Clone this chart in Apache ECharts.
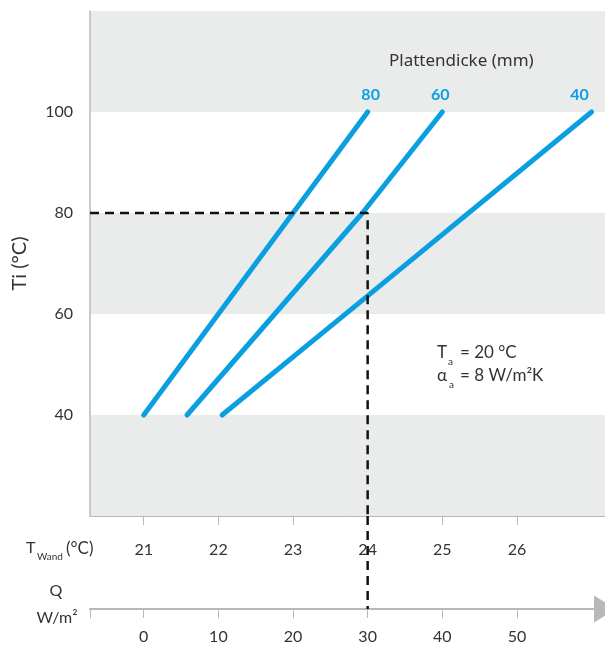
<!DOCTYPE html>
<html>
<head>
<meta charset="utf-8">
<script src="https://cdn.jsdelivr.net/npm/echarts@6/dist/echarts.min.js"></script>
<style>
html,body{margin:0;padding:0;background:#fff;}
#chart{width:605px;height:646px;}
</style>
</head>
<body>
<div id="chart"></div>
<script>
// ---- data ----
var thicknessNames = ['80', '60', '40'];
var line80 = [[21.0, 40], [22.0, 60], [23.0, 80], [24.0, 100]];
var line60 = [[21.58, 40], [23.93, 80], [25.0, 100]];
var line40 = [[22.05, 40], [24.0, 63.6], [27.0, 100]];
var twandTicks = [21, 22, 23, 24, 25, 26];
var qTicks = [0, 10, 20, 30, 40, 50];
var tiTicks = [40, 60, 80, 100];
var readTi = 80;      // dashed reading: Ti
var readTwand = 24;   // dashed reading: T_Wand
var readQ = 30;       // dashed reading: Q

// ---- layout constants ----
var XMIN = 20.28, XMAX = 27.18;
var QMIN = (XMIN - 21) * 10, QMAX = (XMAX - 21) * 10;
var BLUE = '#0a9fe0';
var TXT = '#333333';
var AXG = '#b8b8b8';
var FONT = 'Lato, "Noto Sans", sans-serif';
var WFONT = '"Noto Sans", Lato, sans-serif';

var chart = echarts.init(document.getElementById('chart'), null, {renderer: 'canvas'});

function withEndLabel(data, name, dx) {
  return data.map(function (p, i) {
    if (i === data.length - 1) {
      return {value: p, label: {show: true, formatter: name, position: 'top', distance: 9, offset: [dx, 0],
        color: BLUE, fontWeight: 'bold', fontSize: 16, fontFamily: FONT}};
    }
    return {value: p, label: {show: false}};
  });
}

var blueStyle = {color: BLUE, width: 5, cap: 'round', join: 'round'};
var dashStyle = {color: '#111', width: 2.5, type: [9, 6]};

function blueSeries(name, data, dx) {
  return {type: 'line', name: name, xAxisIndex: 0, yAxisIndex: 0,
    symbol: 'circle', symbolSize: 1, showSymbol: true, itemStyle: {color: BLUE},
    lineStyle: blueStyle, data: withEndLabel(data, name, dx), z: 3};
}

var option = {
  animation: false,
  textStyle: {fontFamily: FONT},
  grid: [
    {left: 90, right: 0, top: 11, height: 505},
    {left: 90, right: 0, top: 516, height: 93}
  ],
  xAxis: [
    {
      gridIndex: 0, type: 'value', min: XMIN, max: XMAX,
      axisLine: {show: true, lineStyle: {color: AXG, width: 1}},
      axisTick: {show: true, length: 9, lineStyle: {color: AXG}, customValues: twandTicks},
      axisLabel: {customValues: twandTicks, margin: 26, fontSize: 16, color: TXT, fontFamily: FONT},
      splitLine: {show: false}
    },
    {
      gridIndex: 1, type: 'value', min: QMIN, max: QMAX, position: 'bottom',
      axisLine: {show: true, onZero: false, symbol: ['none', 'triangle'], symbolSize: [27, 22], symbolOffset: [0, 0],
        lineStyle: {color: AXG, width: 1.8}},
      axisTick: {show: true, length: 9, lineStyle: {color: AXG}, customValues: [QMIN].concat(qTicks)},
      axisLabel: {customValues: qTicks, margin: 20, fontSize: 16, color: TXT, fontFamily: FONT},
      splitLine: {show: false}
    }
  ],
  yAxis: [
    {
      gridIndex: 0, type: 'value', min: 20, max: 120, interval: 20,
      name: 'Ti (°C)', nameLocation: 'middle', nameGap: 60,
      nameTextStyle: {fontSize: 20, color: TXT, fontFamily: FONT},
      axisLine: {show: true, lineStyle: {color: AXG, width: 1.5}},
      axisTick: {show: false},
      axisLabel: {margin: 17, fontSize: 16, color: TXT, fontFamily: FONT,
        formatter: function (v) { return tiTicks.indexOf(v) >= 0 ? String(v) : ''; }},
      splitLine: {show: false},
      splitArea: {show: true, areaStyle: {color: ['#eaebeb', '#ffffff']}}
    },
    {
      gridIndex: 1, type: 'value', min: 0, max: 1, show: false
    }
  ],
  series: [
    blueSeries(thicknessNames[0], line80, 3),
    blueSeries(thicknessNames[1], line60, -2),
    blueSeries(thicknessNames[2], line40, -12),
    {type: 'line', xAxisIndex: 0, yAxisIndex: 0, symbol: 'none', lineStyle: dashStyle, z: 4,
      data: [[XMIN, readTi], [readTwand, readTi], [readTwand, 20]]},
    {type: 'line', xAxisIndex: 1, yAxisIndex: 1, symbol: 'none', lineStyle: dashStyle, z: 4,
      data: [[readQ, 1], [readQ, 0]]}
  ],
  graphic: [
    {type: 'text', z: 100, x: 389, y: 53, style: {text: 'Plattendicke (mm)', font: '17px ' + WFONT, fill: TXT}},
    // T_a annotation
    {type: 'text', z: 100, x: 437, y: 344, style: {text: 'T', font: '17px ' + FONT, fill: TXT}},
    {type: 'text', z: 100, x: 448, y: 357, style: {text: 'a', font: '10px ' + FONT, fill: TXT}},
    {type: 'text', z: 100, x: 460, y: 344, style: {text: '= 20 °C', font: '17px ' + FONT, fill: TXT}},
    {type: 'text', z: 100, x: 437, y: 367, style: {text: 'α', font: '17px ' + FONT, fill: TXT}},
    {type: 'text', z: 100, x: 449, y: 380, style: {text: 'a', font: '10px ' + FONT, fill: TXT}},
    {type: 'text', z: 100, x: 460, y: 367, style: {text: '= 8 W/m²K', font: '17px ' + FONT, fill: TXT}},
    // T_Wand label
    {type: 'text', z: 100, x: 26, y: 540, style: {text: 'T', font: '16px ' + FONT, fill: TXT}},
    {type: 'text', z: 100, x: 37, y: 552, style: {text: 'Wand', font: '10px ' + FONT, fill: TXT}},
    {type: 'text', z: 100, x: 66, y: 540, style: {text: '(°C)', font: '17px ' + FONT, fill: TXT}},
    // Q label
    {type: 'text', z: 100, x: 56, y: 583, style: {text: 'Q', font: '16px ' + FONT, fill: TXT, align: 'center'}},
    {type: 'text', z: 100, x: 57, y: 610, style: {text: 'W/m²', font: '16px ' + FONT, fill: TXT, align: 'center'}}
  ]
};
chart.setOption(option);
</script>
</body>
</html>
